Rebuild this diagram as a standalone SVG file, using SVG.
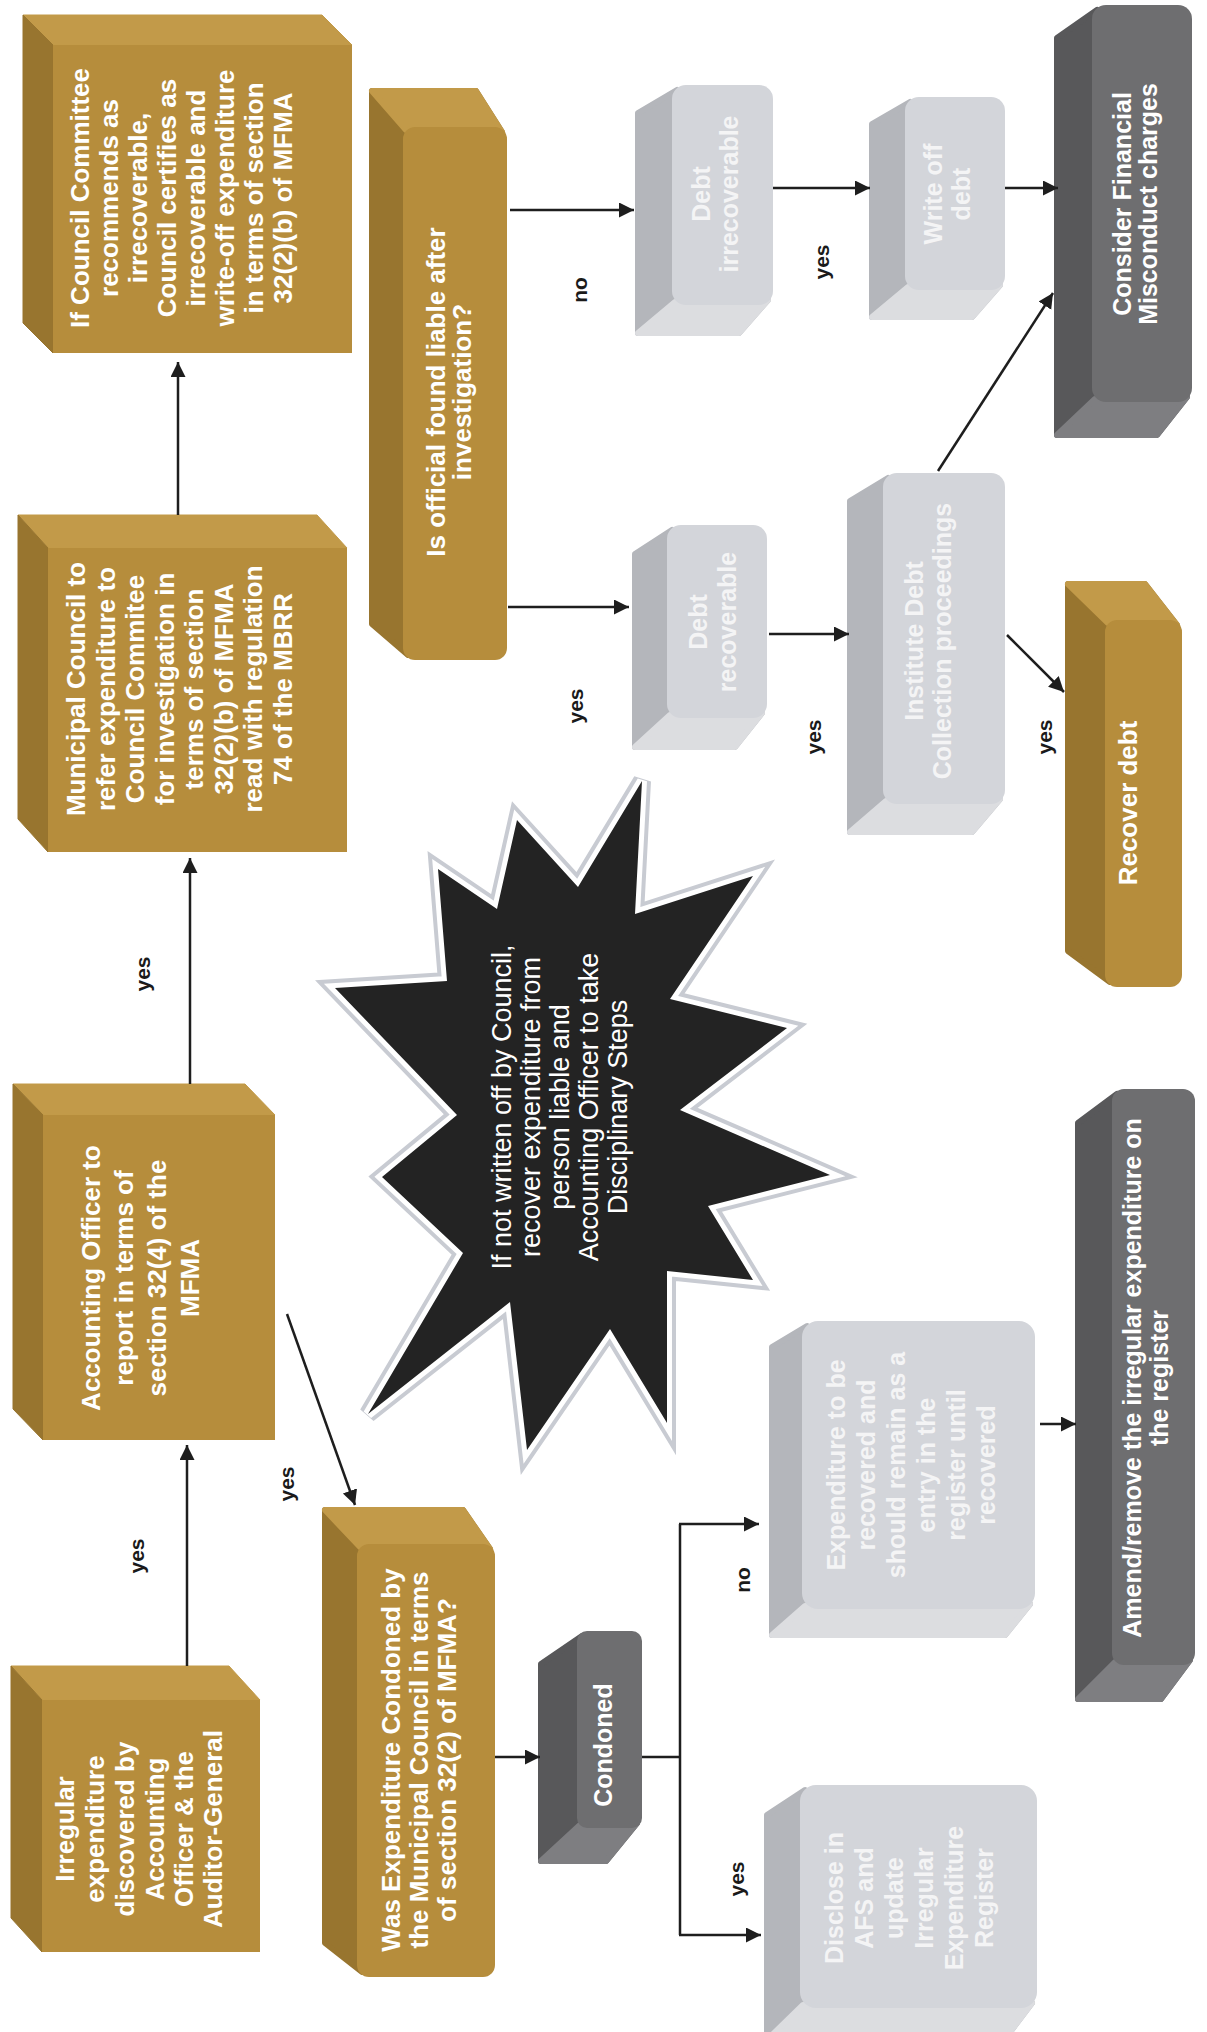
<svg xmlns="http://www.w3.org/2000/svg" width="1207" height="2032" viewBox="0 0 1207 2032">
<defs>
<style>
.gf{fill:#b68d3c}
.gl{fill:#98752f;stroke:#98752f}
.gt{fill:#c29a49;stroke:#c29a49}
.lf{fill:#d3d5da}
.ls{fill:#b4b6bb;stroke:#b4b6bb}
.lb{fill:#dcdde0;stroke:#dcdde0}
.df{fill:#6e6e70}
.ds{fill:#58585a;stroke:#58585a}
.db{fill:#7e7e81;stroke:#7e7e81}
.rd{stroke-width:6px;stroke-linejoin:round}
.t{font-family:"Liberation Sans",Arial,Helvetica,sans-serif;text-anchor:middle}
.tg{font-weight:bold;font-size:26px;fill:#ffffff}
.tl{font-weight:bold;font-size:25px;fill:#f4f4f5}
.td{font-weight:bold;font-size:25px;fill:#ffffff}
.ts{font-weight:normal;font-size:27px;fill:#ffffff}
.lab{font-family:"Liberation Sans",Arial,Helvetica,sans-serif;font-weight:bold;font-size:21px;fill:#1a1a1a;text-anchor:middle}
.c{fill:none;stroke:#1e1e1e;stroke-width:2.5px;marker-end:url(#ah)}
.cn{fill:none;stroke:#1e1e1e;stroke-width:2.5px}
</style>
<marker id="ah" markerUnits="userSpaceOnUse" markerWidth="16" markerHeight="16" refX="15" refY="7.5" orient="auto">
<path d="M0,0 L15,7.5 L0,15 Z" fill="#1e1e1e"/>
</marker>
</defs>
<rect x="0" y="0" width="1207" height="2032" fill="#ffffff"/>

<!-- Starburst -->
<g id="burst">
<polygon points="642,781 635,914 753,876 670,999 787,1028 680,1110 830,1175 708,1206 753,1280 667,1271 667,1423 610,1329 527,1450 510,1302 368,1414 463,1253 382,1177 457,1115 335,988 447,981 438,869 497,909 517,820 578,887" fill="none" stroke="#c8cbd2" stroke-width="18"/>
<polygon points="642,781 635,914 753,876 670,999 787,1028 680,1110 830,1175 708,1206 753,1280 667,1271 667,1423 610,1329 527,1450 510,1302 368,1414 463,1253 382,1177 457,1115 335,988 447,981 438,869 497,909 517,820 578,887" fill="none" stroke="#ffffff" stroke-width="10"/>
<polygon points="642,781 635,914 753,876 670,999 787,1028 680,1110 830,1175 708,1206 753,1280 667,1271 667,1423 610,1329 527,1450 510,1302 368,1414 463,1253 382,1177 457,1115 335,988 447,981 438,869 497,909 517,820 578,887" fill="#232323"/>
<text class="t ts" transform="translate(0,1107) rotate(-90)"><tspan x="0" y="511">If not written off by Council,</tspan><tspan x="0" y="540">recover expenditure from</tspan><tspan x="0" y="569">person liable and</tspan><tspan x="0" y="598">Accounting Officer to take</tspan><tspan x="0" y="627">Disciplinary Steps</tspan></text>
</g>

<!-- Node A -->
<g id="nodeA">
<polygon class="gt" points="53,45 352,45 322,15 23,15"/>
<polygon class="gl" points="53,45 23,15 23,323 53,353"/>
<rect class="gf" x="53" y="45" width="299" height="308"/>
<text class="t tg" transform="translate(0,198) rotate(-90)"><tspan x="0" y="89">If Council Committee</tspan><tspan x="0" y="118">recommends as</tspan><tspan x="0" y="147">irrecoverable,</tspan><tspan x="0" y="176">Council certifies as</tspan><tspan x="0" y="205">irrecoverable and</tspan><tspan x="0" y="234">write-off expenditure</tspan><tspan x="0" y="263">in terms of section</tspan><tspan x="0" y="292">32(2)(b) of MFMA</tspan></text>
</g>

<!-- Node B -->
<g id="nodeB">
<polygon class="gt" points="48,548 347,548 317,515 18,515"/>
<polygon class="gl" points="48,548 18,515 18,819 48,852"/>
<rect class="gf" x="48" y="548" width="299" height="304"/>
<text class="t tg" transform="translate(0,689) rotate(-90)"><tspan x="0" y="85">Municipal Council to</tspan><tspan x="0" y="114.5">refer expenditure to</tspan><tspan x="0" y="144">Council Commitee</tspan><tspan x="0" y="173.5">for investigation in</tspan><tspan x="0" y="203">terms of section</tspan><tspan x="0" y="232.5">32(2)(b) of MFMA</tspan><tspan x="0" y="262">read with regulation</tspan><tspan x="0" y="291.5">74 of the MBRR</tspan></text>
</g>

<!-- Node C -->
<g id="nodeC">
<polygon class="gt" points="43,1115 275,1115 245,1084 13,1084"/>
<polygon class="gl" points="43,1115 13,1084 13,1409 43,1440"/>
<rect class="gf" x="43" y="1115" width="232" height="325"/>
<text class="t tg" transform="translate(0,1278) rotate(-90)"><tspan x="0" y="100">Accounting Officer to</tspan><tspan x="0" y="133">report in terms of</tspan><tspan x="0" y="166">section 32(4) of the</tspan><tspan x="0" y="199">MFMA</tspan></text>
</g>

<!-- Node D -->
<g id="nodeD">
<polygon class="gt" points="42,1700 260,1700 229,1666 11,1666"/>
<polygon class="gl" points="42,1700 11,1666 11,1918 42,1952"/>
<rect class="gf" x="42" y="1700" width="218" height="252"/>
<text class="t tg" transform="translate(0,1829) rotate(-90)"><tspan x="0" y="74">Irregular</tspan><tspan x="0" y="104">expenditure</tspan><tspan x="0" y="134">discovered by</tspan><tspan x="0" y="164">Accounting</tspan><tspan x="0" y="193">Officer &amp; the</tspan><tspan x="0" y="222">Auditor-General</tspan></text>
</g>

<!-- Node E -->
<g id="nodeE">
<polygon class="gl rd" points="372,91 476,91 502,132 408,655 372,624"/>
<polygon class="gt rd" points="372,91 476,91 502,132 406,130"/>
<rect class="gf" x="403" y="127" width="104" height="533" rx="12"/>
<text class="t tg" transform="translate(0,392) rotate(-90)"><tspan x="0" y="445">Is official found liable after</tspan><tspan x="0" y="471">investigation?</tspan></text>
</g>

<!-- Node F -->
<g id="nodeF">
<polygon class="gl rd" points="325,1510 463,1510 490,1549 362,1972 325,1943"/>
<polygon class="gt rd" points="325,1510 463,1510 490,1549 360,1547"/>
<rect class="gf" x="357" y="1544" width="138" height="433" rx="12"/>
<text class="t tg" transform="translate(0,1760) rotate(-90)"><tspan x="0" y="400">Was Expenditure Condoned by</tspan><tspan x="0" y="428">the Municipal Council in terms</tspan><tspan x="0" y="456">of section 32(2) of MFMA?</tspan></text>
</g>

<!-- Node G -->
<g id="nodeG">
<polygon class="ds rd" points="541,1664 582,1636 637,1823 606,1861 541,1861"/>
<polygon class="db rd" points="580,1825 637,1823 606,1861 541,1861"/>
<rect class="df" x="577" y="1631" width="65" height="197" rx="10"/>
<text class="t td" transform="translate(0,1745) rotate(-90)"><tspan x="0" y="612">Condoned</tspan></text>
</g>

<!-- Node H -->
<g id="nodeH">
<polygon class="ls rd" points="772,1347 807,1326 1030,1604 1005,1635 772,1635"/>
<polygon class="lb rd" points="805,1606 1030,1604 1005,1635 772,1635"/>
<rect class="lf" x="802" y="1321" width="233" height="288" rx="16"/>
<text class="t tl" transform="translate(0,1465) rotate(-90)"><tspan x="0" y="845">Expenditure to be</tspan><tspan x="0" y="875">recovered and</tspan><tspan x="0" y="905">should remain as a</tspan><tspan x="0" y="935">entry in the</tspan><tspan x="0" y="965">register until</tspan><tspan x="0" y="995">recovered</tspan></text>
</g>

<!-- Node I -->
<g id="nodeI">
<polygon class="ls rd" points="767,1815 805,1790 1032,2003 1004,2040 767,2040"/>
<polygon class="lb rd" points="803,2005 1032,2003 1004,2040 767,2040"/>
<rect class="lf" x="800" y="1785" width="237" height="223" rx="16"/>
<text class="t tl" transform="translate(0,1898) rotate(-90)"><tspan x="0" y="843">Disclose in</tspan><tspan x="0" y="873">AFS and</tspan><tspan x="0" y="903">update</tspan><tspan x="0" y="933">Irregular</tspan><tspan x="0" y="963">Expenditure</tspan><tspan x="0" y="993">Register</tspan></text>
</g>

<!-- Node J -->
<g id="nodeJ">
<polygon class="ds rd" points="1078,1123 1117,1094 1190,1660 1161,1699 1078,1699"/>
<polygon class="db rd" points="1115,1662 1190,1660 1161,1699 1078,1699"/>
<rect class="df" x="1112" y="1089" width="83" height="576" rx="12"/>
<text class="t td" transform="translate(0,1378) rotate(-90)"><tspan x="0" y="1141">Amend/remove the irregular expenditure on</tspan><tspan x="0" y="1168">the register</tspan></text>
</g>

<!-- Node K -->
<g id="nodeK">
<polygon class="ls rd" points="635,554 672,530 762,713 735,747 635,747"/>
<polygon class="lb rd" points="670,715 762,713 735,747 635,747"/>
<rect class="lf" x="667" y="525" width="100" height="193" rx="14"/>
<text class="t tl" transform="translate(0,622) rotate(-90)"><tspan x="0" y="707">Debt</tspan><tspan x="0" y="736">recoverable</tspan></text>
</g>

<!-- Node L -->
<g id="nodeL">
<polygon class="ls rd" points="638,113 677,90 768,300 739,333 638,333"/>
<polygon class="lb rd" points="675,302 768,300 739,333 638,333"/>
<rect class="lf" x="672" y="85" width="101" height="220" rx="14"/>
<text class="t tl" transform="translate(0,194) rotate(-90)"><tspan x="0" y="710">Debt</tspan><tspan x="0" y="738">irrecoverable</tspan></text>
</g>

<!-- Node M -->
<g id="nodeM">
<polygon class="ls rd" points="850,501 888,478 1000,799 972,832 850,832"/>
<polygon class="lb rd" points="886,801 1000,799 972,832 850,832"/>
<rect class="lf" x="883" y="473" width="122" height="331" rx="14"/>
<text class="t tl" transform="translate(0,641) rotate(-90)"><tspan x="0" y="923">Institute Debt</tspan><tspan x="0" y="951">Collection proceedings</tspan></text>
</g>

<!-- Node N -->
<g id="nodeN">
<polygon class="ds rd" points="1057,38 1097,10 1187,397 1157,435 1057,435"/>
<polygon class="db rd" points="1095,399 1187,397 1157,435 1057,435"/>
<rect class="df" x="1092" y="5" width="100" height="397" rx="14"/>
<text class="t td" transform="translate(0,204) rotate(-90)"><tspan x="0" y="1131">Consider Financial</tspan><tspan x="0" y="1157">Misconduct charges</tspan></text>
</g>

<!-- Node O -->
<g id="nodeO">
<polygon class="gl rd" points="1068,584 1145,584 1177,625 1110,982 1068,951"/>
<polygon class="gt rd" points="1068,584 1145,584 1177,625 1108,623"/>
<rect class="gf" x="1105" y="620" width="77" height="367" rx="12"/>
<text class="t tg" transform="translate(0,803) rotate(-90)"><tspan x="0" y="1137">Recover debt</tspan></text>
</g>

<!-- Node P -->
<g id="nodeP">
<polygon class="ls rd" points="872,124 910,102 1000,285 972,317 872,317"/>
<polygon class="lb rd" points="908,287 1000,285 972,317 872,317"/>
<rect class="lf" x="905" y="97" width="100" height="193" rx="14"/>
<text class="t tl" transform="translate(0,194) rotate(-90)"><tspan x="0" y="942">Write off</tspan><tspan x="0" y="970">debt</tspan></text>
</g>

<!-- Connectors -->
<g id="connectors">
<line class="c" x1="178" y1="515" x2="178" y2="362"/>
<line class="c" x1="190" y1="1084" x2="190" y2="858"/>
<line class="c" x1="187" y1="1666" x2="187" y2="1445"/>
<line class="c" x1="287" y1="1314" x2="355" y2="1505"/>
<line class="c" x1="495" y1="1757" x2="540" y2="1757"/>
<polyline class="cn" points="642,1757 680,1757"/>
<line class="cn" x1="680" y1="1524" x2="680" y2="1935"/>
<line class="c" x1="679" y1="1524" x2="759" y2="1524"/>
<line class="c" x1="679" y1="1935" x2="761" y2="1935"/>
<line class="c" x1="1040" y1="1424" x2="1076" y2="1424"/>
<line class="c" x1="510" y1="210" x2="634" y2="210"/>
<line class="c" x1="508" y1="607" x2="629" y2="607"/>
<line class="c" x1="769" y1="634" x2="849" y2="634"/>
<line class="c" x1="773" y1="188" x2="870" y2="188"/>
<line class="c" x1="1005" y1="188" x2="1058" y2="188"/>
<line class="c" x1="938" y1="471" x2="1053" y2="293"/>
<line class="c" x1="1007" y1="635" x2="1064" y2="692"/>
</g>

<!-- Labels -->
<g id="labels">
<text class="lab" transform="translate(143,974) rotate(-90)" y="7">yes</text>
<text class="lab" transform="translate(137,1556) rotate(-90)" y="7">yes</text>
<text class="lab" transform="translate(287,1484) rotate(-90)" y="7">yes</text>
<text class="lab" transform="translate(743,1580) rotate(-90)" y="7">no</text>
<text class="lab" transform="translate(737,1879) rotate(-90)" y="7">yes</text>
<text class="lab" transform="translate(580,290) rotate(-90)" y="7">no</text>
<text class="lab" transform="translate(576,706) rotate(-90)" y="7">yes</text>
<text class="lab" transform="translate(814,737) rotate(-90)" y="7">yes</text>
<text class="lab" transform="translate(822,262) rotate(-90)" y="7">yes</text>
<text class="lab" transform="translate(1045,737) rotate(-90)" y="7">yes</text>
</g>
</svg>
